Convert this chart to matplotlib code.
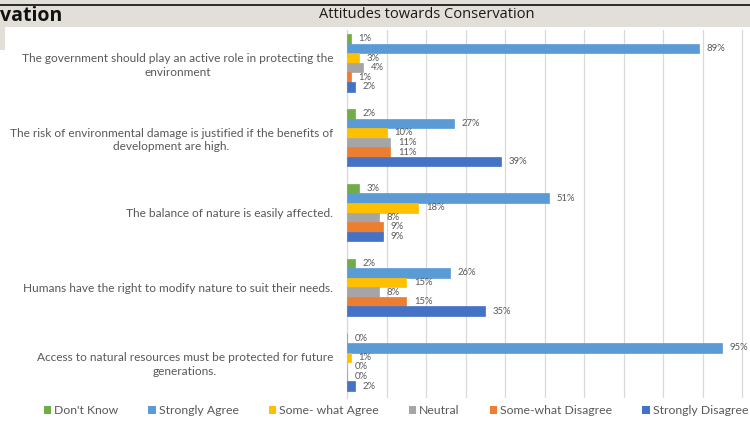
import matplotlib
matplotlib.use("Agg")
import matplotlib.pyplot as plt
from matplotlib.patches import Rectangle, Patch
from matplotlib.lines import Line2D
import numpy as np

# Survey statements (top to bottom) and response shares in percent
statements = [
    "The government should play an active role in protecting the\nenvironment",
    "The risk of environmental damage is justified if the benefits of\ndevelopment are high.",
    "The balance of nature is easily affected.",
    "Humans have the right to modify nature to suit their needs.",
    "Access to natural resources must be protected for future\ngenerations.",
]
series_names = ["Don't Know", "Strongly Agree", "Some- what Agree",
                "Neutral", "Some-what Disagree", "Strongly Disagree"]
dont_know = [1, 2, 3, 2, 0]
strongly_agree = [89, 27, 51, 26, 95]
somewhat_agree = [3, 10, 18, 15, 1]
neutral = [4, 11, 8, 8, 0]
somewhat_disagree = [1, 11, 9, 15, 0]
strongly_disagree = [2, 39, 9, 35, 2]
x_ticks = list(range(0, 111, 10))

series_values = [dont_know, strongly_agree, somewhat_agree,
                 neutral, somewhat_disagree, strongly_disagree]
colors = ["#70AD47", "#5B9BD5", "#FFC000", "#A5A5A5", "#ED7D31", "#4472C4"]

W, H = 750, 422
fig = plt.figure(figsize=(W / 100, H / 100), dpi=100)
fig.patch.set_facecolor("white")

# Slide header band
beige = "#E2DED8"
fig.add_artist(Rectangle((0, 1 - 27 / H), 1, 27 / H, transform=fig.transFigure,
                         facecolor=beige, edgecolor="none", zorder=0))
fig.add_artist(Rectangle((0, 1 - 50 / H), 5 / W, 23 / H, transform=fig.transFigure,
                         facecolor=beige, edgecolor="none", zorder=0))
fig.add_artist(Line2D([0, 1], [1 - 4.5 / H, 1 - 4.5 / H], transform=fig.transFigure,
                      color="#2b2b2b", lw=1.4))
fig.text(0, 1 - 16 / H, "vation", fontsize=14, fontweight="bold",
         family="Open Sans", color="#111111", ha="left", va="center")
fig.text(427 / W, 1 - 15 / H, "Attitudes towards Conservation", fontsize=10.5,
         family="Open Sans", color="#1a1a1a", ha="center", va="center")

# Plot area
left, right = 347 / W, 1.0
bottom, top = 1 - 398 / H, 1 - 30 / H
ax = fig.add_axes([left, bottom, right - left, top - bottom])
ax.set_facecolor("none")

n_series = len(series_values)
bar_h = 0.128
y = np.arange(len(statements))
for i, (vals, col) in enumerate(zip(series_values, colors)):
    pos = y + (i - (n_series - 1) / 2) * bar_h
    ax.barh(pos, vals, height=bar_h, color=col, edgecolor=col, linewidth=0.5,
            zorder=3)
    for p, v in zip(pos, vals):
        ax.annotate(f"{v}%", xy=(v, p), xytext=(5.5, 0), textcoords="offset points",
                    ha="left", va="center", fontsize=6.8, family="Lato",
                    color="#595959", zorder=4, annotation_clip=False)

ax.set_xticks(x_ticks)
ax.set_xlim(0, 102)
ax.set_ylim(4.48, -0.44)
ax.xaxis.grid(True, color="#D9D9D9", lw=0.9, zorder=0)
ax.tick_params(axis="x", length=0, labelbottom=False)
ax.set_yticks(y)
ax.set_yticklabels(statements, fontsize=8.6, family="Lato", color="#595959",
                   linespacing=1.3)
for lbl in ax.get_yticklabels():
    lbl.set_multialignment("center")
ax.tick_params(axis="y", length=0, pad=10)
for s in ["top", "right", "bottom"]:
    ax.spines[s].set_visible(False)
ax.spines["left"].set_color("#D9D9D9")
ax.spines["left"].set_linewidth(0.9)

handles = [Patch(facecolor=c, edgecolor="none") for c in colors]
fig.legend(handles, series_names, loc="center", bbox_to_anchor=(396 / W, 1 - 411 / H),
           ncol=6, frameon=False, handlelength=0.6, handleheight=0.6,
           handletextpad=0.25, columnspacing=2.45,
           prop={"family": "Lato", "size": 8.8}, labelcolor="#595959")

fig.savefig("out.png", dpi=100)
